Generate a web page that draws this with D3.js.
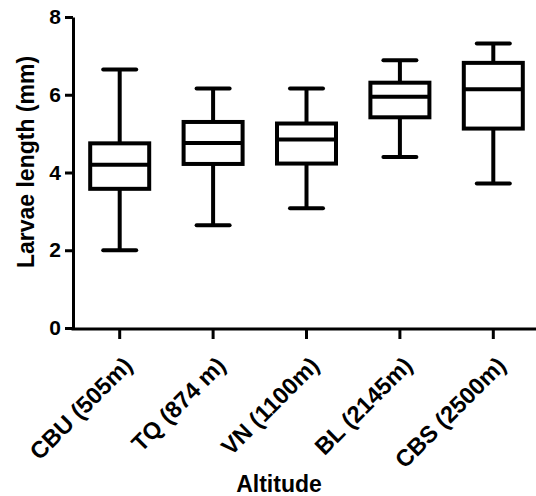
<!DOCTYPE html>
<html><head><meta charset="utf-8">
<script src="https://cdn.jsdelivr.net/npm/d3@7"></script>
<style>body{margin:0;background:#fff}svg{display:block}text{font-family:"Liberation Sans",Arial,sans-serif}</style>
</head><body><svg id="c" width="536" height="496"></svg>
<script>
const categories = ["CBU (505m)", "TQ (874 m)", "VN (1100m)", "BL (2145m)", "CBS (2500m)"];
const whiskerLow  = [2.00, 2.64, 3.08, 4.40, 3.72];
const q1          = [3.58, 4.22, 4.23, 5.42, 5.13];
const median      = [4.20, 4.76, 4.85, 5.95, 6.14];
const q3          = [4.75, 5.30, 5.26, 6.31, 6.82];
const whiskerHigh = [6.65, 6.16, 6.16, 6.89, 7.32];
const yTicks = [0, 2, 4, 6, 8];
const xTitle = "Altitude";
const yTitle = "Larvae length (mm)";

const svg = d3.select("#c");
const x = d3.scaleBand().domain(categories).range([73, 540]);
const y = d3.scaleLinear().domain([0, 8]).range([328, 17]);

const data = categories.map((c, i) => ({c, lo: whiskerLow[i], q1: q1[i], med: median[i], q3: q3[i], hi: whiskerHigh[i]}));
const boxW = 59, capW = 33, sw = 4;

const g = svg.append("g").selectAll("g").data(data).join("g")
  .attr("transform", d => `translate(${x(d.c) + x.bandwidth()/2},0)`);
g.append("line").attr("x1",0).attr("x2",0).attr("y1",d=>y(d.hi)).attr("y2",d=>y(d.q3)).attr("stroke","#000").attr("stroke-width",sw);
g.append("line").attr("x1",0).attr("x2",0).attr("y1",d=>y(d.q1)).attr("y2",d=>y(d.lo)).attr("stroke","#000").attr("stroke-width",sw);
g.append("line").attr("x1",-capW/2).attr("x2",capW/2).attr("y1",d=>y(d.hi)).attr("y2",d=>y(d.hi)).attr("stroke","#000").attr("stroke-width",sw).attr("stroke-linecap","round");
g.append("line").attr("x1",-capW/2).attr("x2",capW/2).attr("y1",d=>y(d.lo)).attr("y2",d=>y(d.lo)).attr("stroke","#000").attr("stroke-width",sw).attr("stroke-linecap","round");
g.append("rect").attr("x",-boxW/2).attr("width",boxW).attr("y",d=>y(d.q3)).attr("height",d=>y(d.q1)-y(d.q3))
  .attr("fill","#fff").attr("stroke","#000").attr("stroke-width",sw);
g.append("line").attr("x1",-boxW/2).attr("x2",boxW/2).attr("y1",d=>y(d.med)).attr("y2",d=>y(d.med)).attr("stroke","#000").attr("stroke-width",sw);

// y axis
const ya = svg.append("g").attr("transform","translate(73,0)")
  .call(d3.axisLeft(y).tickValues(yTicks).tickFormat(d3.format("d")).tickSize(8).tickPadding(4).tickSizeOuter(0));
ya.select(".domain").attr("stroke-width",3).attr("stroke","#000");
ya.selectAll(".tick line").attr("stroke-width",3).attr("stroke","#000");
ya.selectAll(".tick text").attr("font-size",21).attr("font-weight","bold").attr("fill","#000")
  .style("font-family",'"Liberation Sans",Arial,sans-serif');

// x axis
const xa = svg.append("g").attr("transform","translate(0,329)")
  .call(d3.axisBottom(x).tickSize(10).tickSizeOuter(0));
xa.select(".domain").attr("d","M71.5,0H536").attr("stroke-width",3).attr("stroke","#000");
xa.selectAll(".tick line").attr("stroke-width",3).attr("stroke","#000");
xa.selectAll(".tick text").attr("font-size",23.5).attr("font-weight","bold").attr("fill","#000")
  .style("font-family",'"Liberation Sans",Arial,sans-serif')
  .attr("text-anchor","end").attr("dy","0").attr("y",0)
  .attr("transform","translate(14,38) rotate(-45)");

svg.append("text").attr("x",279).attr("y",492).attr("text-anchor","middle")
  .attr("font-size",23).attr("font-weight","bold").text(xTitle);
svg.append("text").attr("transform","translate(34,162) rotate(-90)").attr("text-anchor","middle")
  .attr("font-size",23).attr("font-weight","bold").text(yTitle);
</script></body></html>
